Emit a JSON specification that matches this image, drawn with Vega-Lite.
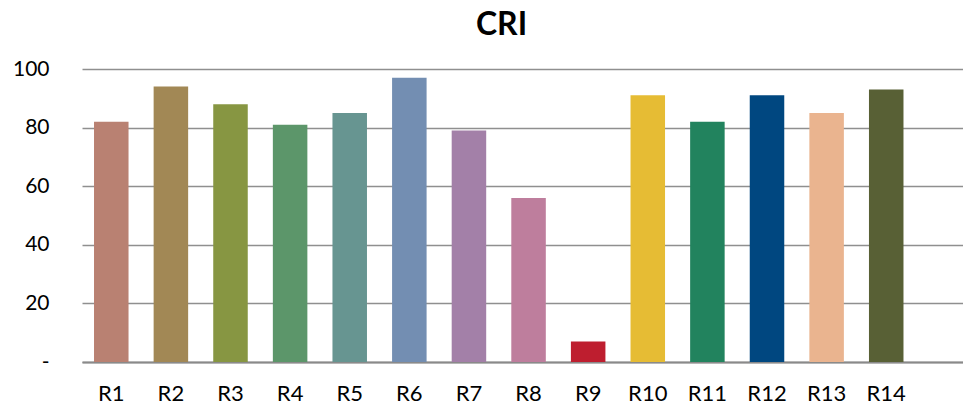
{
  "$schema": "https://vega.github.io/schema/vega-lite/v6.json",
  "width": 881,
  "height": 293,
  "autosize": {"type": "none"},
  "padding": {"left": 82, "top": 69, "right": 0, "bottom": 51},
  "background": "white",
  "title": {
    "text": "CRI",
    "font": "Lato",
    "fontSize": 32,
    "fontWeight": "bold",
    "color": "#000000",
    "anchor": "middle",
    "dx": -21,
    "offset": 16
  },
  "data": {
    "values": [
      {"cat": "R1", "cri": 82, "color": "#B98172"},
      {"cat": "R2", "cri": 94, "color": "#A28855"},
      {"cat": "R3", "cri": 88, "color": "#879642"},
      {"cat": "R4", "cri": 81, "color": "#5C966A"},
      {"cat": "R5", "cri": 85, "color": "#679591"},
      {"cat": "R6", "cri": 97, "color": "#738EB2"},
      {"cat": "R7", "cri": 79, "color": "#A380A8"},
      {"cat": "R8", "cri": 56, "color": "#BE7E9D"},
      {"cat": "R9", "cri": 7, "color": "#BE1E2F"},
      {"cat": "R10", "cri": 91, "color": "#E6BC34"},
      {"cat": "R11", "cri": 82, "color": "#22835E"},
      {"cat": "R12", "cri": 91, "color": "#004780"},
      {"cat": "R13", "cri": 85, "color": "#EAB48F"},
      {"cat": "R14", "cri": 93, "color": "#586035"}
    ]
  },
  "mark": {"type": "bar"},
  "encoding": {
    "x": {
      "field": "cat",
      "type": "nominal",
      "sort": null,
      "scale": {"paddingInner": 0.421, "paddingOuter": 0.6, "align": 0.168},
      "axis": {
        "title": null,
        "labelAngle": 0,
        "labelFont": "Lato",
        "labelFontSize": 22,
        "labelColor": "#000000",
        "labelPadding": 21,
        "ticks": false,
        "domainColor": "#8a8a8a",
        "domainWidth": 2
      }
    },
    "y": {
      "field": "cri",
      "type": "quantitative",
      "scale": {"domain": [0, 100], "nice": false},
      "axis": {
        "title": null,
        "values": [0, 20, 40, 60, 80, 100],
        "labelExpr": "datum.value == 0 ? '-\u00a0\u00a0' : datum.label",
        "labelFont": "Lato",
        "labelFontSize": 21,
        "labelColor": "#000000",
        "labelPadding": 33,
        "ticks": false,
        "domain": false,
        "grid": true,
        "gridColor": "#8f8f8f",
        "gridWidth": 1.5
      }
    },
    "color": {"field": "color", "type": "nominal", "scale": null, "legend": null}
  },
  "config": {"view": {"stroke": null}}
}
